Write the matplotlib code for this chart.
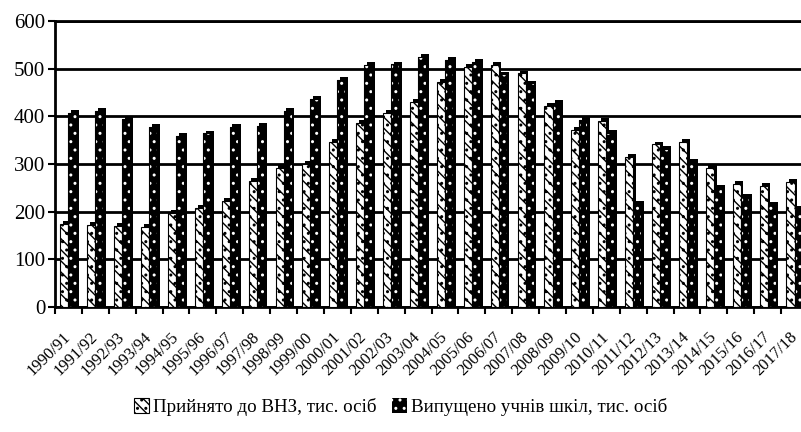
import matplotlib
matplotlib.use("Agg")
import matplotlib.pyplot as plt
import matplotlib.transforms as mtransforms
import numpy as np

years = ["1990/91", "1991/92", "1992/93", "1993/94", "1994/95", "1995/96", "1996/97",
         "1997/98", "1998/99", "1999/00", "2000/01", "2001/02", "2002/03", "2003/04",
         "2004/05", "2005/06", "2006/07", "2007/08", "2008/09", "2009/10", "2010/11",
         "2011/12", "2012/13", "2013/14", "2014/15", "2015/16", "2016/17", "2017/18"]
admitted = [174, 173, 170, 168, 197, 207, 222, 264, 291, 300, 347, 386, 407, 430,
            472, 504, 507, 490, 421, 371, 391, 314, 341, 347, 292, 259, 254, 263]
graduates = [407, 411, 395, 378, 358, 364, 377, 379, 411, 436, 477, 507, 509, 525,
             518, 514, 488, 469, 428, 392, 365, 217, 331, 305, 249, 231, 214, 205]
labels = ["Прийнято до ВНЗ, тис. осіб", "Випущено учнів шкіл, тис. осіб"]

plt.rcParams['font.family'] = ['Liberation Serif', 'DejaVu Serif']
plt.rcParams['hatch.linewidth'] = 1.0

fig = plt.figure(figsize=(8.01, 4.32), dpi=100)
ax = fig.add_axes([55 / 801, 125 / 432, 753 / 801, 286 / 432])

x = np.arange(len(years))
w = 0.3
dx, dy = 0.1, 6

# 3D depth behind each bar
for xs, vals in [(x - w / 2, admitted), (x + w / 2, graduates)]:
    ax.bar(xs + dx, np.array(vals) + dy, w, color="black", zorder=2)

b1 = ax.bar(x - w / 2, admitted, w, facecolor="white", edgecolor="black",
            hatch="\\\\\\..", linewidth=0.8, zorder=3, label=labels[0])
b2 = ax.bar(x + w / 2, graduates, w, facecolor="black", edgecolor="white",
            hatch="..", linewidth=0, zorder=4, label=labels[1])
ax.bar(x + w / 2, graduates, w, fill=False, edgecolor="black", linewidth=0.8, zorder=5)

ax.set_ylim(0, 600)
ax.set_xlim(-0.5, len(years) - 0.5)
ax.set_yticks(range(0, 601, 100))
ax.yaxis.grid(True, color="black", linewidth=2)
ax.set_axisbelow(True)
ax.tick_params(axis="y", labelsize=15, length=5, width=1.5, direction="out", pad=2)

ax.set_xticks(x)
ax.set_xticklabels(years, rotation=45, ha="right", va="center", rotation_mode="anchor", fontsize=12)
shift = mtransforms.ScaledTranslation(-8 / 100, 0, fig.dpi_scale_trans)
for lab in ax.get_xticklabels():
    lab.set_transform(lab.get_transform() + shift)
ax.set_xticks(np.arange(-0.5, len(years), 1), minor=True)
ax.tick_params(axis="x", which="major", length=0, pad=20)
ax.tick_params(axis="x", which="minor", length=5, width=1.5, direction="out")

ax.spines["right"].set_visible(False)
for s in ["left", "bottom", "top"]:
    ax.spines[s].set_linewidth(2)

fig.legend(handles=[b1, b2], labels=labels, loc="center", bbox_to_anchor=(0.5, 25 / 432),
           ncol=2, frameon=False, fontsize=13.7, handlelength=0.8, handleheight=0.8,
           handletextpad=0.2, columnspacing=0.8)

fig.savefig("out.png", dpi=100)
